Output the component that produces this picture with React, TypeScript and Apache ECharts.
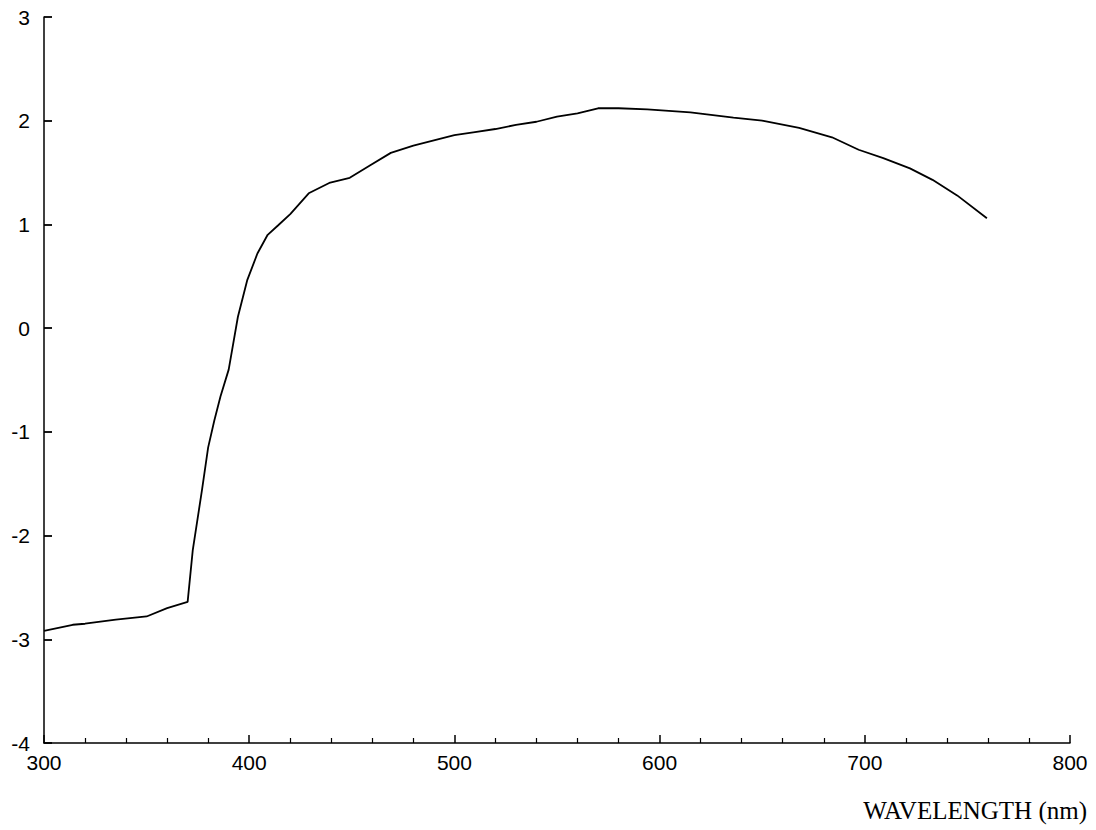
import React, { useEffect, useRef } from "react";
import * as echarts from "echarts";

const wavelengths = [300, 314, 320, 335, 350, 360, 370, 372.5, 377, 380, 383, 386, 390, 394.5, 399, 404, 409, 414, 420, 429, 439, 449, 459, 469, 480, 490, 500, 510, 520, 530, 540, 550, 560, 570, 580, 594, 615, 636, 650, 668, 684, 697, 709, 722, 733, 745, 759.5];
const values = [-2.92, -2.86, -2.85, -2.81, -2.78, -2.7, -2.64, -2.14, -1.56, -1.15, -0.89, -0.66, -0.4, 0.11, 0.46, 0.72, 0.9, 0.99, 1.1, 1.3, 1.4, 1.45, 1.57, 1.69, 1.76, 1.81, 1.86, 1.89, 1.92, 1.96, 1.99, 2.04, 2.07, 2.12, 2.12, 2.11, 2.08, 2.03, 2.0, 1.93, 1.84, 1.72, 1.64, 1.54, 1.43, 1.28, 1.06];
const xAxisTitle = "WAVELENGTH (nm)";

export default function App() {
  const ref = useRef<HTMLDivElement>(null);
  useEffect(() => {
    if (!ref.current) return;
    const chart = echarts.init(ref.current, null, { renderer: "svg" });
    const data = wavelengths.map((w, i) => [w, values[i]]);
    const axisFont = { color: "#000", fontFamily: "Liberation Sans", fontSize: 21 };
    chart.setOption({
      animation: false,
      backgroundColor: "#fff",
      grid: { left: 44, right: 26, top: 17, bottom: 87, containLabel: false },
      xAxis: {
        type: "value",
        min: 300,
        max: 800,
        interval: 100,
        axisLine: { show: true, onZero: false, lineStyle: { color: "#000", width: 1.5 } },
        axisTick: { show: true, inside: true, length: 8, lineStyle: { color: "#000", width: 1.5 } },
        minorTick: { show: true, splitNumber: 5, length: 5, lineStyle: { color: "#000", width: 1.2 } },
        splitLine: { show: false },
        axisLabel: { ...axisFont, margin: 9 },
      },
      yAxis: {
        type: "value",
        position: "left",
        min: -4,
        max: 3,
        interval: 1,
        axisLine: { show: true, onZero: false, lineStyle: { color: "#000", width: 1.5 } },
        axisTick: { show: true, inside: true, length: 8, lineStyle: { color: "#000", width: 1.8 } },
        splitLine: { show: false },
        axisLabel: { show: true, ...axisFont, margin: 14 },
      },
      graphic: [
        {
          type: "text",
          right: 9,
          top: 798,
          style: {
            text: xAxisTitle,
            fill: "#000",
            fontFamily: "Liberation Serif",
            fontSize: 25,
          },
        },
      ],
      series: [
        {
          type: "line",
          data,
          showSymbol: false,
          smooth: false,
          lineStyle: { color: "#000", width: 1.8 },
        },
      ],
    });
    return () => chart.dispose();
  }, []);
  return (
    <div
      ref={ref}
      style={{ position: "fixed", left: 0, top: 0, width: 1096, height: 830, background: "#fff" }}
    />
  );
}
